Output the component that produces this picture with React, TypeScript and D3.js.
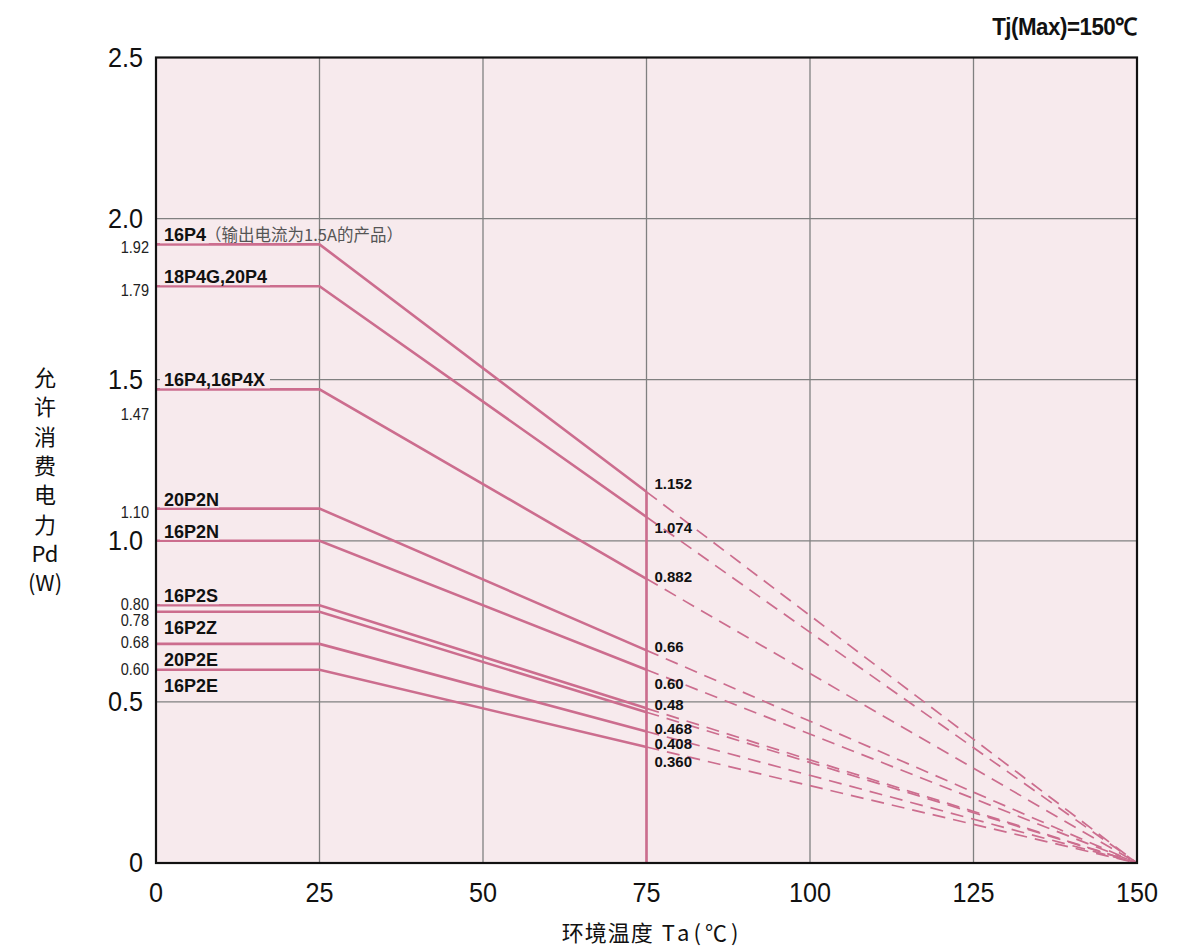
import React from "react";
import * as d3 from "d3";

// ---- data ----
const seriesNames = ["16P4", "18P4G,20P4", "16P4,16P4X", "20P2N", "16P2N", "16P2S", "16P2Z", "20P2E", "16P2E"];
const pdRated = [1.92, 1.79, 1.47, 1.1, 1.0, 0.8, 0.78, 0.68, 0.6];
const pdAt75 = [1.152, 1.074, 0.882, 0.66, 0.6, 0.48, 0.468, 0.408, 0.36];
const ratedLabels = ["1.92", "1.79", "1.47", "1.10", "", "0.80", "0.78", "0.68", "0.60"];
const at75Labels = ["1.152", "1.074", "0.882", "0.66", "0.60", "0.48", "0.468", "0.408", "0.360"];
const seriesNotes = ["（输出电流为1.5A的产品）", "", "", "", "", "", "", "", ""];
const tempKnee = 25;
const tempSolidEnd = 75;
const tjMax = 150;
const xTicks = [0, 25, 50, 75, 100, 125, 150];
const yTicks = [0, 0.5, 1.0, 1.5, 2.0, 2.5];
const yTickLabels = ["0", "0.5", "1.0", "1.5", "2.0", "2.5"];

// ---- layout/style (not data) ----
const nameBelow = [false, false, false, false, false, false, true, true, true];
const ratedDy = [4, 5, 26, 5, 0, 0, 10, 0, 1];
const at75Dy = [-3, 16, 3, 2, 19, 2, 22, 17.5, 20];

const W = 1192;
const H = 948;
const L = 156, R = 1137, T = 57.5, B = 863;
const PINK = "#cc6d8e";
const BG = "#f7eaed";
const GRID = "#808080";
const NUM_FONT = "'Liberation Sans', Arial, sans-serif";
const CJK_FONT = "'Noto Sans CJK SC', 'Noto Sans', sans-serif";

export default function App() {
  const x = d3.scaleLinear().domain([0, tjMax]).range([L, R]);
  const y = d3.scaleLinear().domain([0, 2.5]).range([B, T]);
  const line = d3.line<[number, number]>().x((d) => x(d[0])).y((d) => y(d[1]));

  const maxAt75 = d3.max(pdAt75) as number;

  return (
    <svg width={W} height={H} style={{ position: "absolute", left: 0, top: 0 }}>
      <rect x={L} y={T} width={R - L} height={B - T} fill={BG} />
      {/* grid */}
      {xTicks.slice(1, -1).map((t) => (
        <line key={"gx" + t} x1={x(t)} x2={x(t)} y1={T} y2={B} stroke={GRID} strokeWidth={1.3} />
      ))}
      {yTicks.slice(1, -1).map((t) => (
        <line key={"gy" + t} x1={L} x2={R} y1={y(t)} y2={y(t)} stroke={GRID} strokeWidth={1.3} />
      ))}

      {/* dashed extensions */}
      {pdRated.map((p, i) => (
        <path
          key={"d" + i}
          d={line([[tempSolidEnd, pdAt75[i]], [tjMax, 0]]) as string}
          fill="none"
          stroke={PINK}
          strokeWidth={1.7}
          strokeDasharray="13 8"
        />
      ))}
      {/* solid curves */}
      {pdRated.map((p, i) => (
        <path
          key={"s" + i}
          d={line([[0, p], [tempKnee, p], [tempSolidEnd, pdAt75[i]]]) as string}
          fill="none"
          stroke={PINK}
          strokeWidth={2.6}
        />
      ))}
      <line x1={x(tempSolidEnd)} x2={x(tempSolidEnd)} y1={y(maxAt75)} y2={B} stroke={PINK} strokeWidth={2.6} />

      {/* border */}
      <rect x={L} y={T} width={R - L} height={B - T} fill="none" stroke="#111" strokeWidth={2.2} />

      {/* series labels */}
      {seriesNames.map((n, i) => {
        const yy = y(pdRated[i]);
        const base = nameBelow[i] ? yy + 22 : yy - 3;
        const w = n.length * 10.2;
        return (
          <g key={"n" + i}>
            {!nameBelow[i] && (
              <rect x={x(0) + 4} y={base - 15} width={w + 8} height={17} fill={BG} />
            )}
            <text x={x(0) + 8} y={base} fontFamily={NUM_FONT} fontWeight="bold" fontSize={18} fill="#111">
              {n}
              {seriesNotes[i] && (
                <tspan fontFamily={CJK_FONT} fontWeight="normal" fontSize={16.5} fill="#555" dx={-1}>
                  {seriesNotes[i]}
                </tspan>
              )}
            </text>
          </g>
        );
      })}

      {/* rated small labels */}
      {ratedLabels.map((l, i) =>
        l ? (
          <text
            key={"r" + i}
            x={149}
            y={y(pdRated[i]) + ratedDy[i]}
            textAnchor="end"
            dominantBaseline="middle"
            fontFamily={NUM_FONT}
            fontSize={16.5}
            fill="#222"
            transform={`translate(${149 * 0.12},0) scale(0.88,1)`}
          >
            {l}
          </text>
        ) : null
      )}

      {/* 75°C labels */}
      {at75Labels.map((l, i) => (
        <text
          key={"v" + i}
          x={x(tempSolidEnd) + 8}
          y={y(pdAt75[i]) + at75Dy[i]}
          fontFamily={NUM_FONT}
          fontWeight="bold"
          fontSize={15}
          fill="#111"
        >
          {l}
        </text>
      ))}

      {/* y ticks */}
      {yTicks.map((t, i) => (
        <text
          key={"yt" + t}
          x={143}
          y={y(t) + 9.5}
          textAnchor="end"
          fontFamily={NUM_FONT}
          fontSize={28}
          fill="#111"
          transform={`translate(${143 * 0.1},0) scale(0.9,1)`}
        >
          {yTickLabels[i]}
        </text>
      ))}
      {/* x ticks */}
      {xTicks.map((t) => (
        <text
          key={"xt" + t}
          x={x(t) / 0.9}
          y={902}
          textAnchor="middle"
          fontFamily={NUM_FONT}
          fontSize={28}
          fill="#111"
          transform="scale(0.9,1)"
        >
          {t}
        </text>
      ))}

      {/* axis titles */}
      <text x={652} y={941} textAnchor="middle" fontFamily={CJK_FONT} fontSize={22} fill="#111">
        <tspan letterSpacing={1}>环境温度</tspan>
        <tspan dx={8} letterSpacing={4}>Ta(℃)</tspan>
      </text>
      {["允", "许", "消", "费", "电", "力", "Pd", "(W)"].map((c, i) => (
        <text
          key={"yl" + i}
          x={45}
          y={386 + i * 29.3}
          textAnchor="middle"
          fontFamily={CJK_FONT}
          fontSize={22}
          fill="#111"
        >
          {c}
        </text>
      ))}

      <text
        x={1137 / 0.93}
        y={35}
        textAnchor="end"
        fontFamily={NUM_FONT}
        fontWeight="bold"
        fontSize={24}
        fill="#111"
        transform="scale(0.93,1)"
        letterSpacing={-0.5}
      >
        Tj(Max)=150℃
      </text>
    </svg>
  );
}
